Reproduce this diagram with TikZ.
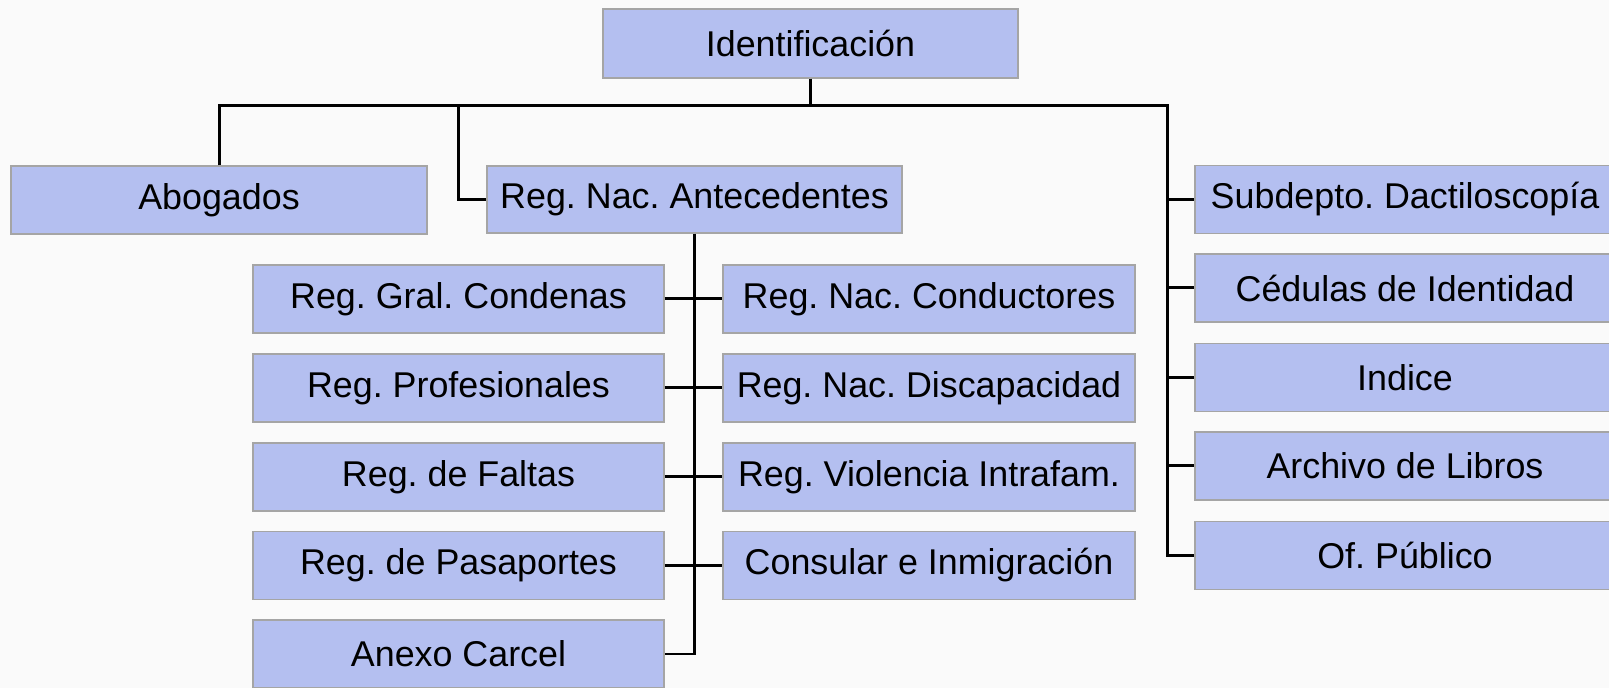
\documentclass[tikz,border=0pt]{standalone}
\usepackage{fontspec}
\setmainfont{Liberation Sans}
\frenchspacing
\definecolor{boxblue}{RGB}{180,191,240}
\definecolor{boxline}{RGB}{165,165,165}
\begin{document}
\begin{tikzpicture}[
        x=0.02cm, y=-0.02cm,
        unit/.style={rectangle, draw=boxline, line width=0.03cm, fill=boxblue, minimum height=1.36cm, inner sep=0pt, font=\fontsize{20.4}{24}\selectfont},
        unit_l/.style={unit, minimum width=8.22cm},
        unit_m/.style={unit, minimum width=8.24cm},
        unit_r/.style={unit, minimum width=8.4cm},
        link/.style={draw=black, line width=0.06cm}
    ]
        \path[use as bounding box, fill=white!98!black] (0,0) rectangle (1609,688);
        \clip (0,0) rectangle (1609,688);

        % Top and first level
        \node[unit, minimum width=8.3cm, minimum height=1.38cm] (ident) at (810.5,43.5) {Identificación};
        \node[unit, minimum width=8.32cm] (abog) at (219,200) {Abogados};
        \node[unit, minimum width=8.3cm, minimum height=1.34cm] (antec) at (694.5,199.5) {Reg. Nac. Antecedentes};

        % Registers under Antecedentes
        \node[unit_l] (condenas) at (458.5,299) {Reg. Gral. Condenas};
        \node[unit_l] (profes) at (458.5,388) {Reg. Profesionales};
        \node[unit_l] (faltas) at (458.5,477) {Reg. de Faltas};
        \node[unit_l] (pasap) at (458.5,565.5) {Reg. de Pasaportes};
        \node[unit_l] (anexo) at (458.5,654) {Anexo Carcel};
        \node[unit_m] (conduct) at (929,299) {Reg. Nac. Conductores};
        \node[unit_m] (discap) at (929,388) {Reg. Nac. Discapacidad};
        \node[unit_m] (violen) at (929,477) {Reg. Violencia Intrafam.};
        \node[unit_m] (consul) at (929,565.5) {Consular e Inmigración};

        % Right column
        \node[unit_r] (dactil) at (1405,199.5) {Subdepto. Dactiloscopía};
        \node[unit_r] (cedulas) at (1405,288) {Cédulas de Identidad};
        \node[unit_r] (indice) at (1405,377.5) {Indice};
        \node[unit_r] (archivo) at (1405,466) {Archivo de Libros};
        \node[unit_r] (ofpub) at (1405,555.5) {Of. Público};

        % Connectors
        \coordinate (bus) at (0,106);
        \coordinate (trunk_a) at (458,106);
        \coordinate (trunk_r) at (1167,106);
        \draw[link] (ident.south) -- (ident.south |- bus);
        \draw[link] (abog.north) -- (abog.north |- bus) -- (trunk_r) -- (trunk_r |- ofpub.west) -- (ofpub.west);
        \draw[link] (trunk_a) |- (antec.west);
        \draw[link] (trunk_r |- dactil.west) -- (dactil.west);
        \draw[link] (trunk_r |- cedulas.west) -- (cedulas.west);
        \draw[link] (trunk_r |- indice.west) -- (indice.west);
        \draw[link] (trunk_r |- archivo.west) -- (archivo.west);
        \draw[link] (antec.south) -- (antec.south |- anexo.east) -- (anexo.east);
        \draw[link] (condenas.east) -- (conduct.west);
        \draw[link] (profes.east) -- (discap.west);
        \draw[link] (faltas.east) -- (violen.west);
        \draw[link] (pasap.east) -- (consul.west);
\end{tikzpicture}
\end{document}
